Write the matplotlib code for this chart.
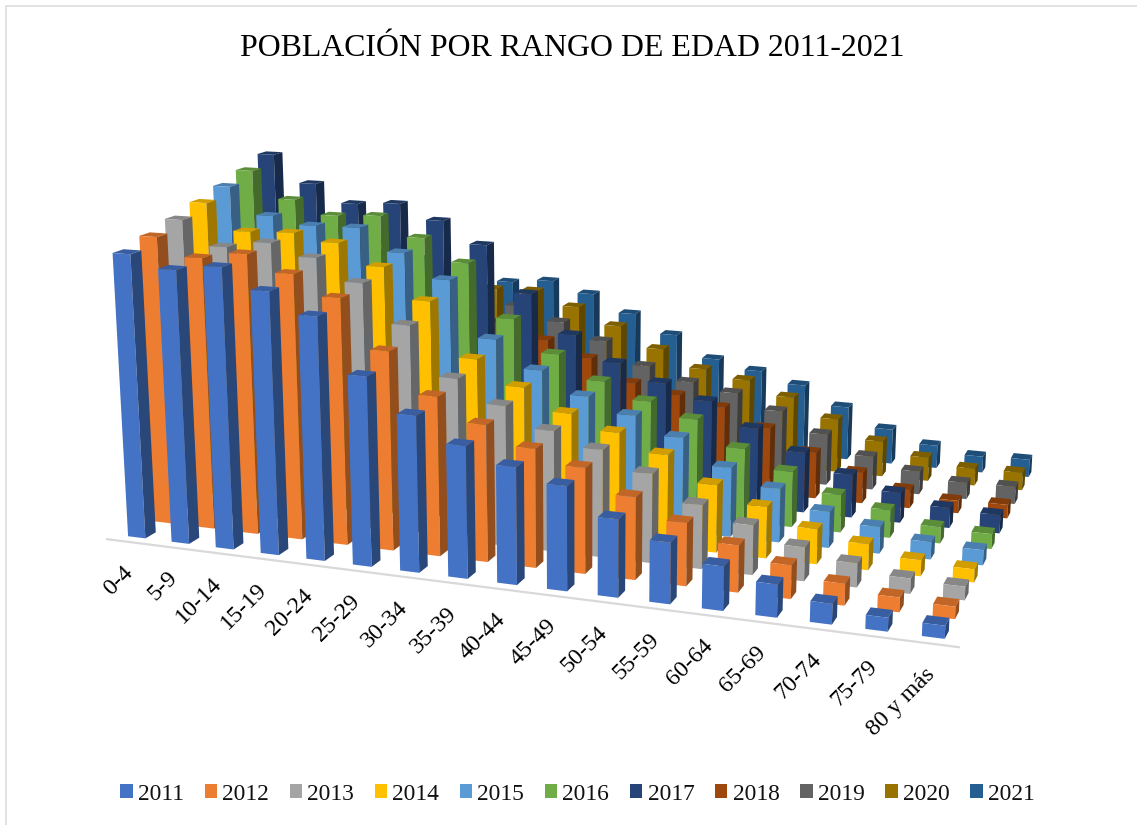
import numpy as np
import matplotlib
matplotlib.use("Agg")
import matplotlib.pyplot as plt
from matplotlib.colors import to_rgb
from matplotlib.lines import Line2D
from matplotlib.patches import Patch

categories = ["0-4","5-9","10-14","15-19","20-24","25-29","30-34","35-39","40-44","45-49",
              "50-54","55-59","60-64","65-69","70-74","75-79","80 y más"]
years = ["2011","2012","2013","2014","2015","2016","2017","2018","2019","2020","2021"]
y2011 = [100.1,95.8,97.9,91.0,83.9,65.2,53.6,45.1,39.8,35.3,26.2,20.5,14.7,10.9,6.8,4.5,4.2]
y2012 = [102.8,96.5,99.0,93.3,86.3,69.5,55.5,47.5,41.0,36.3,28.2,21.4,15.9,11.3,7.3,4.9,4.1]
y2013 = [105.7,97.1,99.6,95.5,87.9,74.5,57.4,49.5,42.4,37.5,31.0,22.1,17.1,11.6,8.2,5.2,4.6]
y2014 = [108.8,99.4,100.0,97.5,90.1,79.2,60.0,51.5,43.8,38.7,32.6,23.8,18.0,12.2,9.0,5.5,4.5]
y2015 = [111.9,102.1,99.5,99.8,91.8,83.2,63.1,53.3,45.4,40.1,33.8,24.8,19.1,12.8,9.4,6.1,5.3]
y2016 = [115.1,105.2,100.2,101.1,94.0,85.9,66.6,55.0,46.5,40.7,35.7,26.7,20.1,13.6,10.0,5.8,5.3]
y2017 = [118.6,108.4,101.7,102.7,97.3,89.3,72.2,58.1,49.0,43.0,37.8,29.3,22.1,15.7,10.9,7.3,6.6]
y2018 = [67.3,65.7,64.1,62.2,59.5,56.1,50.9,45.3,37.2,34.1,31.0,24.7,17.2,11.4,6.8,4.6,5.0]
y2019 = [67.9,66.2,64.5,62.5,59.8,59.0,54.0,47.9,39.5,34.7,32.0,26.6,19.3,12.5,8.6,6.1,6.4]
y2020 = [68.6,66.9,65.1,63.0,61.0,61.4,56.2,49.9,42.1,35.6,32.7,27.5,20.5,13.5,9.0,6.5,6.7]
y2021 = [70.8,69.8,67.5,65.8,60.3,61.9,57.8,51.0,43.8,35.4,32.1,27.9,20.7,13.5,8.8,6.2,6.7]
series = [y2011,y2012,y2013,y2014,y2015,y2016,y2017,y2018,y2019,y2020,y2021]
colors = ["#4472C4","#ED7D31","#A5A5A5","#FFC000","#5B9BD5","#70AD47",
          "#264478","#9E480E","#636363","#997300","#255E91"]

plt.rcParams["font.family"] = ["Liberation Serif", "DejaVu Serif"]
W, Hpx = 1137, 825
fig = plt.figure(figsize=(W/100, Hpx/100), dpi=100, facecolor="white")
ax = fig.add_axes([0, 0, 1, 1], projection="3d", computed_zorder=False)
ax.set_axis_off()
ax.patch.set_visible(False)

# camera of the reference chart: world (category, year, value) -> image pixels
CAM = np.array([[41.9547912, 29.1054466, -0.1918304, 141.9779302],
                [1.0285376, -3.84489, -2.9055212, 534.2627513],
                [-0.0081616, 0.0212454, -0.0003302, 1.0]])

def camera_matrix():
    to_display = np.array([[1, 0, 0], [0, -1, Hpx], [0, 0, 1.0]])
    view = np.linalg.inv(ax.transData.get_matrix()) @ to_display @ CAM
    depth = np.linalg.svd(view)[2][-1]
    return np.vstack([view[0], view[1], depth, view[2]])
ax.get_proj = camera_matrix

def project(x, y, z=0.0):
    p = CAM @ np.array([x, y, z, 1.0])
    return p[0]/p[2], p[1]/p[2]

def fig_xy(px, py):
    return px/W, 1 - py/Hpx

none = (0, 0, 0, 0)
bw = 0.4
zo = 10
for j in range(len(years) - 1, -1, -1):
    base = np.array(to_rgb(colors[j]))
    cap, side = tuple(base*0.82), tuple(base*0.62)
    face = tuple(base)
    for i in range(len(categories)):
        bar = ax.bar3d(i - bw/2, j - bw/2, 0, bw, bw, series[j][i],
                       color=[none, cap, face, none, none, side],
                       shade=False, linewidth=0, edgecolor="none", zsort="average")
        bar.set_clip_on(False)
        bar.set_zorder(zo)
        zo += 1

a = fig_xy(*project(-0.5, -0.5))
b = fig_xy(*project(len(categories) - 0.5, -0.5))
fig.add_artist(Line2D([a[0], b[0]], [a[1], b[1]], color="#D9D9D9", lw=1.6, zorder=-1))

for i, c in enumerate(categories):
    px, py = project(i, -0.5)
    fx, fy = fig_xy(px - 6, py + 20)
    fig.text(fx, fy, c, fontsize=17.3, rotation=45, ha="right", va="top",
             rotation_mode="anchor", color="black")

tx, ty = fig_xy(572.5, 49)
fig.text(tx, ty, "POBLACIÓN POR RANGO DE EDAD 2011-2021", fontsize=22.95,
         ha="center", va="center", color="black")

handles = [Patch(facecolor=c, edgecolor="none", label=y) for c, y in zip(colors, years)]
fig.legend(handles=handles, loc="center", bbox_to_anchor=fig_xy(577.5, 794), ncol=11, frameon=False,
           fontsize=16.9, handlelength=0.52, handleheight=0.52, handletextpad=0.22,
           columnspacing=0.89, borderpad=0, labelcolor="#111111")

for p0, p1 in [((6, 825), (6, 6)), ((6, 6), (1137, 6))]:
    s, e = fig_xy(*p0), fig_xy(*p1)
    fig.add_artist(Line2D([s[0], e[0]], [s[1], e[1]], color="#E3E3E3", lw=1.4))

fig.savefig("out.png", dpi=100)
